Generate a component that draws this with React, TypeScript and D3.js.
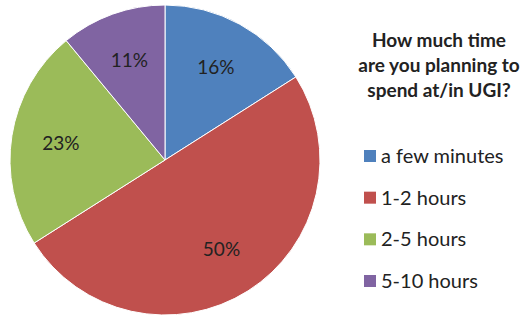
import { useEffect, useRef } from "react";
import * as d3 from "d3";

const categories = ["a few minutes", "1-2 hours", "2-5 hours", "5-10 hours"];
const shares = [16, 50, 23, 11];
const colors = ["#4F81BD", "#C0504D", "#9BBB59", "#8064A2"];
const titleLines = ["How much time", "are you planning to", "spend at/in UGI?"];

const App = () => {
  const svgRef = useRef<SVGSVGElement>(null);

  useEffect(() => {
    const w = 529;
    const h = 316;
    const svg = d3.select(svgRef.current).attr("width", w).attr("height", h);
    svg.selectAll("*").remove();

    const cx = 165;
    const cy = 160;
    const r = 155;
    const font = "Lato, 'Open Sans', sans-serif";

    const pie = d3.pie<number>().sort(null).value((d) => d);
    const arcs = pie(shares);
    const arc = d3.arc<d3.PieArcDatum<number>>().innerRadius(0).outerRadius(r);
    const labelArc = d3.arc<d3.PieArcDatum<number>>().innerRadius(r * 0.68).outerRadius(r * 0.68);

    const g = svg.append("g").attr("transform", `translate(${cx},${cy})`);
    g.selectAll("path")
      .data(arcs)
      .join("path")
      .attr("d", arc)
      .attr("fill", (d, i) => colors[i])
      .attr("stroke", "#fff")
      .attr("stroke-width", 1);

    g.selectAll("text")
      .data(arcs)
      .join("text")
      .attr("transform", (d) => `translate(${labelArc.centroid(d)})`)
      .attr("text-anchor", "middle")
      .attr("dy", "0.35em")
      .attr("font-family", font)
      .attr("font-size", 19)
      .attr("fill", "#222")
      .text((d) => d.data + "%");

    // title
    svg.append("g")
      .selectAll("text")
      .data(titleLines)
      .join("text")
      .attr("x", 439)
      .attr("y", (d, i) => 47 + i * 25)
      .attr("text-anchor", "middle")
      .attr("font-family", font)
      .attr("font-weight", "bold")
      .attr("font-size", 19)
      .attr("fill", "#222")
      .text((d) => d);

    // legend
    const yLeg = d3.scalePoint<string>().domain(categories).range([156, 281]);
    const leg = svg.append("g")
      .selectAll("g")
      .data(categories)
      .join("g")
      .attr("transform", (d) => `translate(364,${yLeg(d)})`);
    leg.append("rect")
      .attr("x", 0)
      .attr("y", -6)
      .attr("width", 12)
      .attr("height", 12)
      .attr("fill", (d, i) => colors[i]);
    leg.append("text")
      .attr("x", 17)
      .attr("dy", "0.35em")
      .attr("font-family", font)
      .attr("font-size", 20)
      .attr("fill", "#222")
      .text((d) => d);
  }, []);

  return <svg ref={svgRef} style={{ position: "absolute", left: 0, top: 0 }}></svg>;
};

export default App;
